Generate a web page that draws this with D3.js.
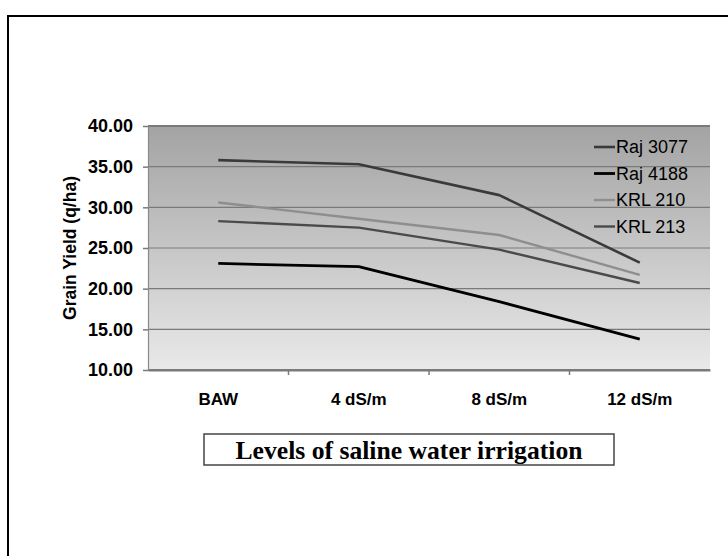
<!DOCTYPE html>
<html>
<head>
<meta charset="utf-8">
<script src="https://cdn.jsdelivr.net/npm/d3@7"></script>
<style>
  html, body { margin: 0; padding: 0; background: #fff; }
  svg { display: block; }
</style>
</head>
<body>
<svg id="chart" width="728" height="556"></svg>
<script>
// Salinity levels on the x axis
const levels = ["BAW", "4 dS/m", "8 dS/m", "12 dS/m"];

// Grain yield (q/ha) per variety
const raj3077 = [35.8, 35.3, 31.5, 23.2];
const raj4188 = [23.1, 22.7, 18.4, 13.8];
const krl210  = [30.6, 28.6, 26.6, 21.7];
const krl213  = [28.3, 27.5, 24.8, 20.7];

const seriesNames = ["Raj 3077", "Raj 4188", "KRL 210", "KRL 213"];
const seriesValues = [raj3077, raj4188, krl210, krl213];
const seriesColors = ["#3a3a3a", "#000000", "#8e8e8e", "#4a4a4a"];
const seriesWidths = [2.6, 2.8, 2.4, 2.4];

const yTicks = [10, 15, 20, 25, 30, 35, 40];

const svg = d3.select("#chart");
const font = "'Liberation Sans', Arial, sans-serif";

// Outer frame (runs off the right and bottom edges)
svg.append("rect")
  .attr("x", 8).attr("y", 16)
  .attr("width", 800).attr("height", 700)
  .attr("fill", "none").attr("stroke", "#000").attr("stroke-width", 2);

const plot = { left: 148, right: 710, top: 126, bottom: 370 };

const x = d3.scaleBand().domain(levels).range([plot.left, plot.right]);
const y = d3.scaleLinear().domain([10, 40]).range([plot.bottom, plot.top]);

// Plot background gradient
const defs = svg.append("defs");
const grad = defs.append("linearGradient")
  .attr("id", "bg").attr("x1", 0).attr("y1", 0).attr("x2", 0).attr("y2", 1);
grad.append("stop").attr("offset", "0%").attr("stop-color", "#a3a3a3");
grad.append("stop").attr("offset", "100%").attr("stop-color", "#e9e9e9");

svg.append("rect")
  .attr("x", plot.left).attr("y", plot.top)
  .attr("width", plot.right - plot.left).attr("height", plot.bottom - plot.top)
  .attr("fill", "url(#bg)");

// Horizontal gridlines
svg.append("g")
  .selectAll("line")
  .data(yTicks)
  .join("line")
  .attr("x1", plot.left).attr("x2", plot.right)
  .attr("y1", d => y(d)).attr("y2", d => y(d))
  .attr("stroke", "#7a7a7a").attr("stroke-width", d => (d === 40 || d === 10) ? 2 : 1.2);

// Y axis
const yAxis = svg.append("g")
  .attr("transform", `translate(${plot.left},0)`)
  .call(d3.axisLeft(y).tickValues(yTicks).tickFormat(d3.format(".2f")).tickSize(5).tickPadding(10));
yAxis.select(".domain").attr("stroke", "#8a8a8a").attr("stroke-width", 1.2);
yAxis.selectAll(".tick line").attr("stroke", "#7a7a7a").attr("stroke-width", 1.5);
yAxis.selectAll(".tick text")
  .attr("font-family", font).attr("font-size", 18).attr("font-weight", "bold").attr("fill", "#000");

// X axis
const xAxis = svg.append("g")
  .attr("transform", `translate(0,${plot.bottom})`)
  .call(d3.axisBottom(x).tickSize(0).tickPadding(23));
xAxis.select(".domain").attr("stroke", "#7a7a7a").attr("stroke-width", 2);
xAxis.selectAll(".tick text")
  .attr("font-family", font).attr("font-size", 17).attr("font-weight", "bold").attr("fill", "#000");

// Category separators on the x axis
svg.append("g")
  .selectAll("line")
  .data(levels.slice(1))
  .join("line")
  .attr("x1", d => x(d)).attr("x2", d => x(d))
  .attr("y1", plot.bottom).attr("y2", plot.bottom + 5)
  .attr("stroke", "#7a7a7a").attr("stroke-width", 1.5);

// Y axis title
svg.append("text")
  .attr("transform", `translate(76,${(plot.top + plot.bottom) / 2}) rotate(-90)`)
  .attr("text-anchor", "middle")
  .attr("font-family", font).attr("font-size", 17.5).attr("font-weight", "bold")
  .text("Grain Yield (q/ha)");

// Series lines
const line = d3.line()
  .x((d, i) => x(levels[i]) + x.bandwidth() / 2)
  .y(d => y(d));

svg.append("g")
  .selectAll("path")
  .data(seriesValues)
  .join("path")
  .attr("d", d => line(d))
  .attr("fill", "none")
  .attr("stroke", (d, i) => seriesColors[i])
  .attr("stroke-width", (d, i) => seriesWidths[i])
  .attr("stroke-linejoin", "round");

// Legend
const legend = svg.append("g").attr("transform", "translate(594,147)");
const rows = legend.selectAll("g")
  .data(seriesNames)
  .join("g")
  .attr("transform", (d, i) => `translate(0,${i * 26.5})`);
rows.append("line")
  .attr("x1", 0).attr("x2", 21).attr("y1", 0).attr("y2", 0)
  .attr("stroke", (d, i) => seriesColors[i])
  .attr("stroke-width", (d, i) => seriesWidths[i]);
rows.append("text")
  .attr("x", 22).attr("y", 6)
  .attr("font-family", font).attr("font-size", 18).attr("fill", "#000")
  .text(d => d);

// Boxed x axis title
svg.append("rect")
  .attr("x", 204).attr("y", 434)
  .attr("width", 410).attr("height", 31)
  .attr("fill", "#fff").attr("stroke", "#444").attr("stroke-width", 1.5);
svg.append("text")
  .attr("x", 409).attr("y", 459)
  .attr("text-anchor", "middle")
  .attr("font-family", "'Liberation Serif', 'DejaVu Serif', serif")
  .attr("font-size", 25).attr("font-weight", "bold")
  .attr("textLength", 347).attr("lengthAdjust", "spacingAndGlyphs")
  .text("Levels of saline water irrigation");
</script>
</body>
</html>
